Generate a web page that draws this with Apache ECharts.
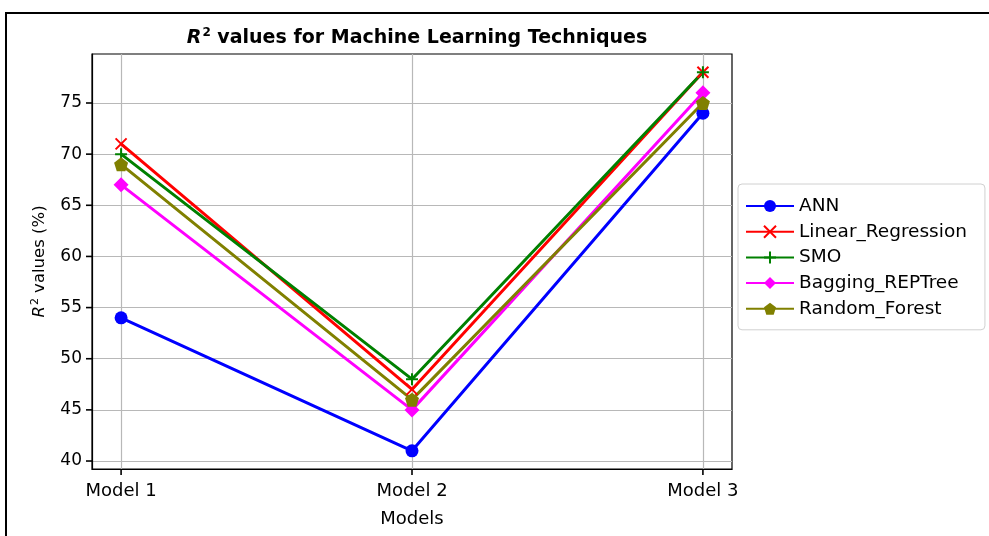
<!DOCTYPE html>
<html>
<head>
<meta charset="utf-8">
<script src="https://cdn.jsdelivr.net/npm/echarts@6/dist/echarts.min.js"></script>
<style>
html,body{margin:0;padding:0;background:#fff;}
#main{width:989px;height:536px;}
</style>
</head>
<body>
<div id="main"></div>
<script>
// data
var models = ['Model 1', 'Model 2', 'Model 3'];
var ann = [54, 41, 74];
var linearReg = [71, 47, 78];
var smo = [70, 48, 78];
var bagging = [67, 45, 76];
var randomForest = [69, 46, 75];
var yTicks = [40, 45, 50, 55, 60, 65, 70, 75];
var xTicks = [0, 1, 2];

var X_MIN = -0.1, X_MAX = 2.1;
var Y_MIN = 39.22, Y_MAX = 79.79;

var FONT = 'DejaVu Sans';
var symX = 'path://M0,0L10,10M10,0L0,10';
var symPlus = 'path://M5,0L5,10M0,5L10,5';
var symPenta = 'path://M50,0L97.6,34.5L79.4,90.5L20.6,90.5L2.4,34.5Z';

function pts(arr){
	return arr.map(function(v,i){ return [i, v]; });
}
function mkSeries(name, arr, color, symbol, size, stroke){
	return {
		name: name,
		type: 'line',
		data: pts(arr),
		symbol: symbol,
		symbolSize: size,
		lineStyle: {width: 3, color: color},
		itemStyle: {color: color, borderColor: color, borderWidth: stroke},
		emphasis: {disabled: true},
		animation: false,
		z: 3
	};
}
// outward tick marks, placed through the axes' scales
function tickSeries(data, vertical){
	return {
		type: 'custom',
		coordinateSystem: 'cartesian2d',
		silent: true,
		clip: false,
		animation: false,
		z: 10,
		data: data,
		renderItem: function(params, api){
			var p = api.coord([api.value(0), api.value(1)]);
			var shape = vertical
				? {x1: p[0], y1: p[1], x2: p[0], y2: p[1] + 6}
				: {x1: p[0] - 6, y1: p[1], x2: p[0], y2: p[1]};
			return {type: 'line', shape: shape, style: {stroke: '#000', lineWidth: 1.6}};
		}
	};
}

var chart = echarts.init(document.getElementById('main'));
var option = {
	backgroundColor: '#fff',
	textStyle: {fontFamily: FONT},
	title: {
		text: '{i|R}{s|2}{b| values for Machine Learning Techniques}',
		left: 412,
		textAlign: 'center',
		top: 22,
		textStyle: {
			rich: {
				i: {fontFamily: FONT, fontStyle: 'italic', fontSize: 19, color: '#000'},
				s: {fontFamily: FONT, fontSize: 12, color: '#000', padding: [0, 0, 10, 1]},
				b: {fontFamily: FONT, fontWeight: 'bold', fontSize: 19, color: '#000'}
			}
		}
	},
	grid: {
		left: 92, right: 257, top: 54, bottom: 67,
		show: true, borderColor: '#000', borderWidth: 1.2
	},
	legend: {
		orient: 'vertical',
		left: 738,
		top: 184,
		padding: [12, 18, 11, 7],
		itemWidth: 48,
		itemHeight: 15,
		itemGap: 5.7,
		borderColor: '#d0d0d0',
		borderWidth: 1,
		borderRadius: 4,
		textStyle: {fontFamily: FONT, fontSize: 18.5, lineHeight: 20, color: '#000'},
		data: ['ANN', 'Linear_Regression', 'SMO', 'Bagging_REPTree', 'Random_Forest']
	},
	xAxis: {
		type: 'value',
		min: X_MIN,
		max: X_MAX,
		name: 'Models',
		nameLocation: 'middle',
		nameGap: 41,
		nameTextStyle: {fontFamily: FONT, fontSize: 18, color: '#000'},
		axisLine: {show: true, onZero: false, lineStyle: {color: '#000', width: 1.2}},
		axisTick: {show: false, customValues: xTicks},
		axisLabel: {
			customValues: xTicks,
			fontFamily: FONT, fontSize: 18, color: '#000', margin: 13,
			formatter: function(v){ return models[Math.round(v)]; }
		},
		splitLine: {show: true, lineStyle: {color: '#b8b8b8', width: 1.2}}
	},
	yAxis: {
		type: 'value',
		min: Y_MIN,
		max: Y_MAX,
		name: '{i|R}{s|2}{t| values (%)}',
		nameLocation: 'middle',
		nameGap: 42,
		nameRotate: 90,
		nameTextStyle: {
			rich: {
				i: {fontFamily: FONT, fontStyle: 'italic', fontSize: 16.5, color: '#000'},
				s: {fontFamily: FONT, fontSize: 11, color: '#000', padding: [0, 0, 9, 1]},
				t: {fontFamily: FONT, fontSize: 16.5, color: '#000'}
			}
		},
		axisLine: {show: true, onZero: false, lineStyle: {color: '#000', width: 1.2}},
		axisTick: {show: false, customValues: yTicks},
		axisLabel: {customValues: yTicks, fontFamily: FONT, fontSize: 17, color: '#000', margin: 10},
		splitLine: {show: true, lineStyle: {color: '#b8b8b8', width: 1.2}}
	},
	graphic: [{
		type: 'rect',
		shape: {x: 6, y: 13, width: 1100, height: 700},
		style: {fill: null, stroke: '#000', lineWidth: 2},
		silent: true
	}],
	series: [
		mkSeries('ANN', ann, '#0000ff', 'circle', 13, 0),
		mkSeries('Linear_Regression', linearReg, '#ff0000', symX, 11, 2),
		mkSeries('SMO', smo, '#008000', symPlus, 12, 2),
		mkSeries('Bagging_REPTree', bagging, '#ff00ff', 'diamond', 15, 0),
		mkSeries('Random_Forest', randomForest, '#808000', symPenta, 14, 0),
		tickSeries(yTicks.map(function(v){ return [X_MIN, v]; }), false),
		tickSeries(xTicks.map(function(v){ return [v, Y_MIN]; }), true)
	]
};
chart.setOption(option);
</script>
</body>
</html>
